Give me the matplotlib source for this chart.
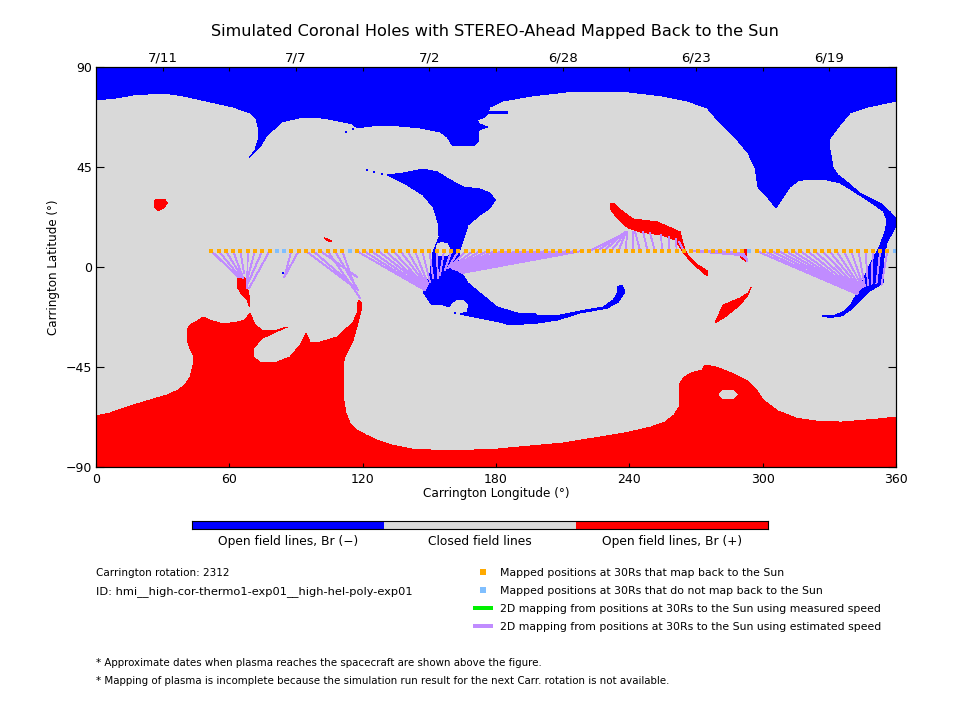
import matplotlib
matplotlib.use("Agg")
import matplotlib.pyplot as plt

plt.rcParams['font.family'] = 'DejaVu Sans'

W, H = 960, 720

# region outlines as (lon, lat)
north_blue = [(0,75.2),(8.6,76),(16.7,77.4),(24.3,77.9),(33.3,77.9),(39.2,77),(51.3,74.3),(61.7,72),(69.3,69.3),(72,66.6),(72.9,63),(72.9,57.2),(71.6,52.7),(68.9,49.1),(73.8,54),(77,59.4),(79.7,61.7),(83.7,65.3),(93.2,67.5),(102.2,67),(111.2,65.3),(115.2,64.4),(117.5,62.6),(124.7,63.5),(135.9,63.5),(145.8,62.6),(154.8,60.8),(158,58.5),(160.2,54.9),(169.7,54.5),(171.9,56.2),(172.4,61.7),(176.4,63),(172.4,64.4),(171.5,66.2),(175.1,67.5),(176.4,68.9),(185.4,69),(185.4,69.8),(176.4,69.8),(177.3,72),(183.2,74.7),(196.2,77),(212,78.8),(239.4,78.8),(254.7,77),(266,74.7),(275,71.6),(280.8,64.8),(288.5,57.2),(293.4,51.3),(296.6,44.6),(297.9,36),(302,31.5),(306,26.6),(309.2,31.5),(312.3,36),(315.9,38.7),(320,39.6),(329,39.2),(334.8,37.8),(339.3,35.1),(347,30.2),(354.2,25.2),(356,21.2),(355,15.8),(352.8,9.9),(351,6.3),(348.3,1.4),(345.2,-5.9),(342.5,-11.7),(339.8,-16.7),(337,-19.8),(332.6,-21.6),(326.7,-22),(330.3,-22.7),(335.7,-22),(339.3,-19.4),(342.5,-16.2),(347.4,-11.3),(351.9,-8.6),(354.2,-7.2),(354.6,4),(356,11.2),(359.6,17.6),(360,22),(357.3,24.8),(352.8,28.8),(343.8,33.3),(338,38.2),(333.9,41.4),(331.7,44.6),(330.3,52.7),(330.3,58),(334.8,63.9),(339.3,69.3),(347.4,72),(360,74.7),(360,90),(0,90)]
middle_blue = [(131,41.4),(138.2,42.3),(147.2,44.1),(153.5,42.8),(159.3,39.2),(165.2,36),(172.8,35.1),(177.3,33.3),(179.6,30.2),(177.3,26.6),(172.8,23.4),(167.4,18.9),(165.2,12.2),(163.8,7.7),(162.5,-0.5),(166,-5),(167.4,-7.2),(172.8,-11.7),(180.5,-18),(189.5,-20.7),(197.6,-20.7),(198.5,-22),(208.8,-21.6),(217.8,-19.8),(228.2,-18),(232.7,-14.9),(234.9,-11.3),(234.5,-9),(236.7,-8.1),(238,-11.3),(234.9,-15.8),(230,-18.5),(217.8,-20.7),(207.5,-23.9),(198.5,-25.2),(186.3,-26.1),(181.8,-24.8),(172.8,-23),(163.8,-21.2),(167,-20.3),(167.9,-17.1),(166,-14.9),(162.5,-14.4),(159.8,-16.2),(158.9,-18),(156.2,-17.1),(151.2,-17.1),(149,-14),(147.2,-11.3),(149,-6.8),(150.3,-2.7),(151.7,6.8),(154.4,13.5),(153.9,20.2),(151.7,27),(147.2,32.4),(140,36.9)]
middle_gap = [(153,8.6),(153.9,10.4),(155.7,11),(158,10.4),(158.9,8.6),(158.9,5.9),(158,5),(154.8,5),(153,5.9)]
blue_specks_lon = [112.5,115.7,122,125.1,128.7,131.4,161.6,84.2,72.5,71.6]
blue_specks_lat = [60.8,62.1,43.7,42.8,41.9,41.4,-20.7,-2.7,54,52.2]

south_red = [(0,-67),(6.3,-65.7),(14,-63),(21.2,-60.8),(32,-57.6),(36.9,-55.4),(40,-53.1),(42.3,-49.5),(43.7,-44.1),(43.7,-39.6),(42.3,-36.5),(41,-32.9),(41,-28.4),(42.3,-26.1),(45.5,-24.3),(48.2,-22.5),(51.3,-23.9),(57.2,-25.7),(63.5,-24.8),(67,-23.9),(69.3,-20.7),(71.6,-26.1),(74.7,-28.4),(81.5,-28.4),(86,-27),(80.6,-29.3),(75,-32),(70.7,-36.5),(70.7,-40.5),(73.8,-42.8),(81.5,-42.8),(87.3,-40.5),(91.8,-35.1),(94.5,-29.7),(96.3,-33.8),(100.8,-33.8),(108.5,-31.5),(113.4,-27),(115.7,-24.8),(117.5,-20.7),(118,-14.9),(119.3,-16.2),(119.3,-19.4),(117.9,-25.2),(115.7,-32.9),(112,-40.5),(111.2,-44.1),(111.2,-58.5),(112.5,-65.7),(114.3,-70.2),(117.5,-73.4),(121.5,-75.6),(126.5,-77.9),(133.2,-80.1),(142.2,-81.9),(159.3,-82.8),(180.9,-81.9),(210.2,-79.2),(238,-74.7),(249.8,-72),(256,-69.8),(260.1,-66.6),(262.4,-63),(262.4,-53.1),(264.2,-50),(267.8,-47.7),(272.7,-46.4),(274,-44.1),(279,-45),(285.8,-47.7),(290.7,-50),(293.9,-51.8),(297.9,-56.3),(300.2,-59.9),(306.9,-64.8),(315,-68),(323.6,-69.3),(335.3,-69.8),(351.9,-68.4),(360,-67.5),(360,-90),(0,-90)]
south_gap = [(280.4,-57.6),(282.2,-55.4),(286.2,-55.4),(288.5,-57.2),(286.2,-59.4),(282.2,-59)]
red_patch_a = [(63.5,-5),(65.3,-4),(67.5,-5.4),(68,-9),(68.9,-13),(68.9,-17.6),(68,-14.9),(65.7,-12.6),(63.9,-9.5)]
red_patch_b = [(26.6,30.2),(31,30.6),(32,28.8),(30.6,26.6),(27.9,25.2),(26.1,27)]
red_patch_c = [(102.6,13.1),(103.9,12.8),(105.8,11.7),(105.8,11.3),(103.5,12.2)]
red_patch_d = [(231.3,28.8),(232.7,28.8),(237.2,24.8),(241.7,21.6),(252.5,20.3),(262.8,15.8),(263.7,12.2),(265,7.7),(266.4,5.4),(270.9,0.9),(275,-1.8),(275,-4),(270.9,-0.5),(266.4,4),(264.2,6.8),(260.6,12.2),(254.7,14.4),(244.8,15.8),(239.4,17.6),(234.5,22),(231.8,25.6)]
red_patch_e = [(290.7,8.1),(292.5,7.7),(293,2.3),(289.8,4.5)]
red_patch_f = [(278.6,-25.2),(282.2,-17.1),(289.8,-14),(293.4,-11.7),(294.8,-9),(293.4,-12.6),(289.8,-17.1),(283,-22.5)]

# spacecraft positions at 30Rs
row_lat = 7.2
mapped_lon = [51.9,55.2,58.4,61.7,65.0,68.3,71.5,74.8,78.1,
              87.9,91.2,94.4,97.7,101.0,104.2,107.5,110.8,
              117.3,120.6,123.9,127.1,130.4,133.7,137.0,140.2,143.5,146.8,
              150.0,153.3,156.6,159.9,163.1,166.4,169.7,
              172.9,176.2,179.5,182.8,186.0,189.3,192.6,195.8,199.1,202.4,205.7,208.9,212.2,215.5,218.7,
              222.0,225.3,228.6,231.8,235.1,238.4,241.6,244.9,248.2,251.5,254.7,258.0,261.3,264.5,
              267.8,271.1,274.4,277.6,280.9,284.2,287.4,290.7,
              297.3,300.5,303.8,307.1,310.3,313.6,316.9,320.2,323.4,326.7,330.0,333.2,336.5,339.8,343.1,346.3,349.6,352.9,356.1]
end_lon = [63.9,64.8,65.7,66.2,66.6,68,68,68.4,68.9,
           84.8,84.8,117.9,117.5,117.5,118.8,117.9,116.6,
           148,148,148,148.5,148.5,148.5,149,149,149.4,150.3,
           151.7,153.9,154.8,157,158.4,159.3,160.2,
           160.2,160.7,160.7,161.1,161.6,162,162.5,162.9,163.4,163.4,163.8,164.3,164.7,164.7,164.7,
           238,238,238,238.5,238.5,239,241.7,242.6,246.2,249.3,254.3,257.9,261,262.4,
           289.4,291.2,291.2,291.6,292,292.5,293,293,
           342.5,342.5,342.5,342.5,342.9,342.9,342.6,342.8,343.1,343.4,343.8,344.2,344.8,345.3,346,347.4,349,351.2,353.5]
end_lat = [-4.5,-4.5,-4.5,-5,-2.7,-9.5,-5.9,-7.2,-9.5,
           -4.4,-4.4,-10.4,-9.9,-4.5,-13.9,-10.4,-9,
           -10.4,-10.4,-9.9,-9.5,-9.5,-9,-8.6,-8.1,-7.7,-6.8,
           -5,-5,-3.6,-1.4,-0.5,-0.0,0,
           -0.5,-0.5,-0.9,-0.9,-0.9,-1.4,-1.4,-1.4,-1.8,-1.8,-2.3,-2.3,-2.7,-2.7,-2.7,
           15.3,15.3,15.8,15.8,15.8,15.8,15.8,15.8,15.8,15.3,14.4,13.5,12.6,11.3,
           5.4,6.3,6.3,5.9,5,4.5,3.6,2.7,
           -12.2,-12.2,-11.7,-11.7,-11.7,-11.7,-11.5,-11.1,-10.6,-10,-9.7,-9.5,-9.1,-8.9,-8.6,-8.1,-7.7,-7.4,-8.1]
unmapped_lon = [81.3,84.6,114.1,294.0,359.4]

lon_ticks = [0,60,120,180,240,300,360]
lat_ticks = [-90,-45,0,45,90]
lat_labels = ['\u221290','\u221245','0','45','90']
date_ticks = [30,60,90,120,150,180,210,240,270,300,330]
date_labels = ['7/11','','7/7','','7/2','','6/28','','6/23','','6/19']

BLUE = '#0000ff'
RED = '#ff0000'
GRAY = '#d9d9d9'
ORANGE = '#ffaa00'
SKY = '#80bfff'
PURPLE = '#c08cff'
GREEN = '#00f000'

fig = plt.figure(figsize=(W/100, H/100), dpi=100)
ax = fig.add_axes([96/W, 1-467/H, 800/W, 400/H], facecolor=GRAY)

for poly, col in [(north_blue, BLUE), (middle_blue, BLUE), (middle_gap, GRAY),
                  (south_red, RED), (south_gap, GRAY), (red_patch_a, RED), (red_patch_b, RED),
                  (red_patch_c, RED), (red_patch_d, RED), (red_patch_e, RED), (red_patch_f, RED)]:
    ax.fill([p[0] for p in poly], [p[1] for p in poly], color=col, lw=0, antialiased=False)
ax.plot(blue_specks_lon, blue_specks_lat, 's', color=BLUE, ms=1.6, mew=0, aa=False)

for i in range(len(mapped_lon)):
    ax.plot([mapped_lon[i], end_lon[i]], [row_lat, end_lat[i]], color=PURPLE, lw=0.6, aa=False)
ax.plot(mapped_lon, [row_lat]*len(mapped_lon), 's', color=ORANGE, ms=3.5, mew=0, aa=False)
ax.plot(unmapped_lon, [row_lat]*len(unmapped_lon), 's', color=SKY, ms=3.5, mew=0, aa=False)

ax.set_xlim(0, 360)
ax.set_ylim(-90, 90)
ax.set_xticks(lon_ticks)
ax.set_yticks(lat_ticks)
ax.set_yticklabels(lat_labels)
ax.tick_params(axis='x', direction='in', length=2.9, width=0.8, labelsize=9, pad=4)
ax.tick_params(axis='y', direction='in', length=5.8, width=0.8, labelsize=9, pad=3, right=True)
ax.set_xlabel('Carrington Longitude (\u00b0)', fontsize=8.65, labelpad=1)
ax.set_ylabel('Carrington Latitude (\u00b0)', fontsize=8.6, labelpad=4)

top = ax.twiny()
top.set_xlim(0, 360)
top.set_xticks(date_ticks)
top.set_xticklabels(date_labels)
top.tick_params(axis='x', direction='in', length=2.9, width=0.8, labelsize=9.5, pad=2)
for a in (ax, top):
    for s in a.spines.values():
        s.set_linewidth(0.8)

fig.text(495/W, 1-36/H, 'Simulated Coronal Holes with STEREO-Ahead Mapped Back to the Sun',
         fontsize=11.6, ha='center', va='baseline')

# colour bar
cb = fig.add_axes([192/W, 1-529/H, 576/W, 8/H])
cb.barh(0, 1, left=0, height=1, color=BLUE, aa=False)
cb.barh(0, 1, left=1, height=1, color=GRAY, aa=False)
cb.barh(0, 1, left=2, height=1, color=RED, aa=False)
cb.set_xlim(0, 3)
cb.set_ylim(-0.5, 0.5)
cb.set_xticks([])
cb.set_yticks([])
for s in cb.spines.values():
    s.set_linewidth(0.8)
for x, t in [(288, 'Open field lines, Br (\u2212)'), (480, 'Closed field lines'), (672, 'Open field lines, Br (+)')]:
    fig.text(x/W, 1-545/H, t, fontsize=8.8, ha='center', va='baseline')

# notes and legend
fig.text(96/W, 1-576/H, 'Carrington rotation: 2312', fontsize=7.5, va='baseline')
fig.text(96/W, 1-594/H, 'ID: hmi__high-cor-thermo1-exp01__high-hel-poly-exp01', fontsize=8.2, va='baseline')
for y, t in [(666, '* Approximate dates when plasma reaches the spacecraft are shown above the figure.'),
             (684, '* Mapping of plasma is incomplete because the simulation run result for the next Carr. rotation is not available.')]:
    fig.text(96/W, 1-y/H, t, fontsize=7.35, va='baseline')

leg = fig.add_axes([0, 0, 1, 1])
leg.set_axis_off()
leg.set_xlim(0, W)
leg.set_ylim(H, 0)
leg.plot([483], [572], 's', color=ORANGE, ms=4.2, mew=0, aa=False)
leg.plot([483], [590], 's', color=SKY, ms=4.2, mew=0, aa=False)
leg.plot([475, 491], [608, 608], color=GREEN, lw=1.6, aa=False)
leg.plot([475, 491], [626, 626], color=PURPLE, lw=1.6, aa=False)
for y, t in [(576, 'Mapped positions at 30Rs that map back to the Sun'),
             (594, 'Mapped positions at 30Rs that do not map back to the Sun'),
             (612, '2D mapping from positions at 30Rs to the Sun using measured speed'),
             (630, '2D mapping from positions at 30Rs to the Sun using estimated speed')]:
    leg.text(500, y, t, fontsize=7.85, va='baseline')

fig.savefig('out.png', dpi=100)
